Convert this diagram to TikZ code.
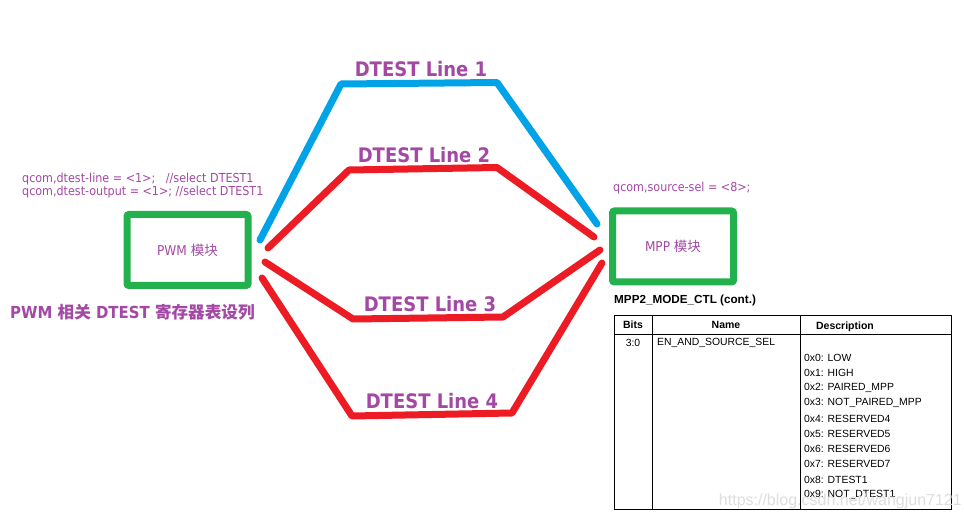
\documentclass[tikz,border=0pt]{standalone}
\usepackage{fontspec}
\setmainfont{Liberation Sans}
\newfontfamily\tah{DejaVu Sans Condensed}
\newfontfamily\cjk{Noto Sans CJK SC}
\definecolor{lblue}{HTML}{00A2E8}
\definecolor{lred}{HTML}{ED1C24}
\definecolor{lgreen}{HTML}{22B14C}
\definecolor{lpurple}{HTML}{A349A4}
\tikzset{
  bluewire/.style={draw=lblue,line width=7pt,line cap=round,line join=round},
  redwire/.style={draw=lred,line width=7pt,line cap=round,line join=round},
  modbox/.style={draw=lgreen,line width=7pt,rounded corners=2pt,minimum width=121pt,minimum height=71pt,inner sep=0pt,text=lpurple,font=\fontsize{13.5}{15}\selectfont},
  linelabel/.style={text=lpurple,font=\tah\bfseries\fontsize{20}{22}\selectfont,inner sep=0pt},
  code/.style={text=lpurple,font=\tah\fontsize{12.4}{13}\selectfont,inner sep=0pt,anchor=west},
  tbl/.style={draw=black,line width=1pt},
  tblhead/.style={font=\bfseries\fontsize{10.5}{12}\selectfont,inner sep=0pt},
  tbltext/.style={font=\fontsize{10.4}{12}\selectfont,inner sep=0pt,anchor=west}
}
\begin{document}
\begin{tikzpicture}[x=1pt,y=-1pt]
\useasboundingbox[fill=white] (0,0) rectangle (964,521);
% modules
\node[modbox] (pwm) at (187.5,250) {{\tah PWM }{\cjk 模块}};
\node[modbox] (mpp) at (673,246.5) {{\tah MPP }{\cjk 模块}};
% wire corners
\coordinate (b0) at (260,240);
\coordinate (b1) at (341,84);
\coordinate (b2) at (497,82.5);
\coordinate (b3) at (597,224);
\coordinate (r20) at (268,248);
\coordinate (r21) at (349,170);
\coordinate (r22) at (497,167.5);
\coordinate (r23) at (594,237);
\coordinate (r30) at (265,262);
\coordinate (r31) at (353,319);
\coordinate (r32) at (503,317);
\coordinate (r33) at (600,250);
\coordinate (r40) at (262,278);
\coordinate (r41) at (352,416);
\coordinate (r42) at (512,413);
\coordinate (r43) at (602,263);
\draw[bluewire] (b0) -- (b1) -- (b2) -- (b3);
\draw[redwire] (r20) -- (r21) -- (r22) -- (r23);
\draw[redwire] (r30) -- (r31) -- (r32) -- (r33);
\draw[redwire] (r40) -- (r41) -- (r42) -- (r43);
% line labels
\node[linelabel] (l1) at (421,69) {DTEST Line 1};
\node[linelabel] (l2) at (424,155) {DTEST Line 2};
\node[linelabel] (l3) at (430,304) {DTEST Line 3};
\node[linelabel] (l4) at (432,401) {DTEST Line 4};
% code texts
\node[code] (c1) at (22,179.5) {qcom,dtest-line = <1>;\ \ \ //select DTEST1};
\node[code] (c2) at (22,192) {qcom,dtest-output = <1>; //select DTEST1};
\node[code] (c3) at (613,188.5) {qcom,source-sel = <8>;};
\node[anchor=west,inner sep=0pt,text=lpurple,font=\bfseries\fontsize{16.6}{18}\selectfont] (title) at (10,312)
  {{\tah PWM }{\cjk 相关}{\tah\ DTEST }{\cjk 寄存器表设列}};
% table
\node[anchor=west,inner sep=0pt,font=\bfseries\fontsize{11.7}{13}\selectfont] (tcap) at (614,300.5) {MPP2\_MODE\_CTL (cont.)};
\draw[tbl] (614,316) rectangle (951,509);
\draw[tbl] (614,334.5) -- (951,334.5);
\draw[tbl] (652,316) -- (652,509);
\draw[tbl] (800.5,316) -- (800.5,509);
\node[tblhead] (hb) at (633,325) {Bits};
\node[tblhead] (hn) at (726,324.5) {Name};
\node[tblhead] (hd) at (845,326.5) {Description};
\node[font=\fontsize{10.4}{12}\selectfont,inner sep=0pt] (bits) at (633,343) {3:0};
\node[tbltext] (name) at (657,343) {EN\_AND\_SOURCE\_SEL};
\foreach \t [count=\i from 0] in {LOW,HIGH,PAIRED\_MPP,NOT\_PAIRED\_MPP,RESERVED4,RESERVED5,RESERVED6,RESERVED7,DTEST1,NOT\_DTEST1}
  \node[tbltext] (d\i) at (804,357.5+15.25*\i) {0x\i: \t};
% watermark
\node[anchor=east,inner sep=0pt,text=black!13,font=\fontsize{16}{18}\selectfont] (wm) at (962,501) {https://blog.csdn.net/wangjun7121};
\end{tikzpicture}
\end{document}
